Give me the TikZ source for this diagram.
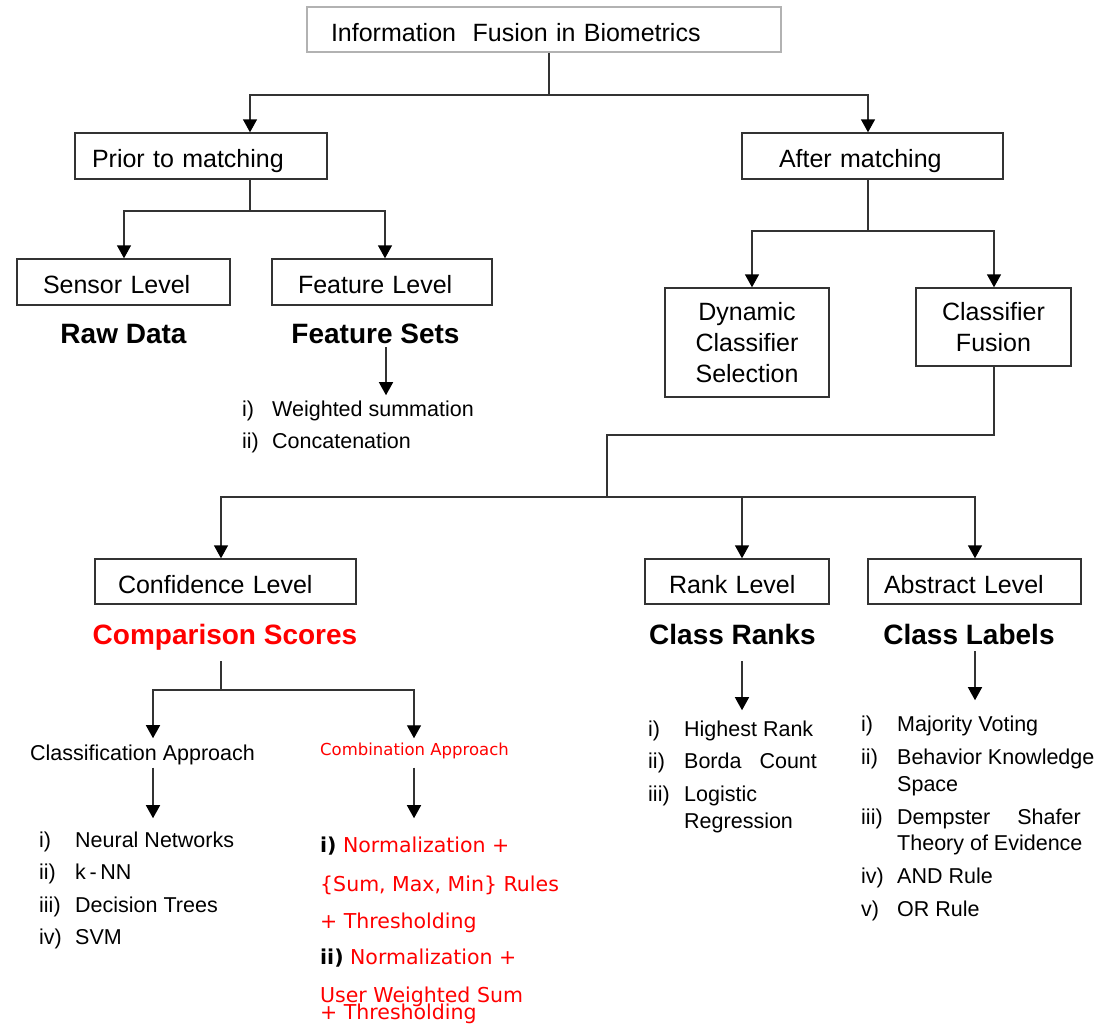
\documentclass[tikz,border=0pt]{standalone}
\usepackage{fontspec}
\setmainfont{Liberation Sans}
\newfontfamily\dejavu{DejaVu Sans}
\usetikzlibrary{arrows.meta}
\definecolor{lnc}{HTML}{333333}
\definecolor{rd}{HTML}{FF0000}
\tikzset{
  box/.style={draw=lnc, line width=1.4pt, font=\fontsize{25}{31}\selectfont, inner ysep=0pt, minimum height=45pt},
  lbox/.style={box, align=left, text height=23pt, text depth=0pt},
  conn/.style={draw=lnc, line width=1.4pt},
  arr/.style={conn, -{Triangle[width=14pt,length=13pt,color=black]}},
  hd/.style={font=\fontsize{28}{32}\selectfont\bfseries, anchor=base, inner sep=0pt},
  item/.style={font=\fontsize{21.5}{26}\selectfont, anchor=base west, inner sep=0pt},
  ritem/.style={font=\dejavu\fontsize{20.5}{25}\selectfont, text=rd, anchor=base west, inner sep=0pt},
}
\newcommand\lab[2]{\makebox[#1][l]{#2}}
\begin{document}
\begin{tikzpicture}[x=1pt,y=-1pt]
\fill[white] (0,0) rectangle (1100,1023);
\useasboundingbox (0,0) rectangle (1100,1023);
% boxes
\node[lbox, draw=gray!60, inner xsep=24pt, text width=426pt] (top) at (544,29.5) {Information\ \ Fusion in Biometrics};
\node[lbox, inner xsep=17pt, text width=218pt, minimum height=46pt] (prior) at (201,156) {Prior to matching};
\node[lbox, inner xsep=37pt, text width=187pt, minimum height=46pt] (after) at (872.5,156) {After matching};
\node[lbox, inner xsep=26pt, text width=161pt, minimum height=46pt] (sensor) at (123.5,282) {Sensor Level};
\node[lbox, inner xsep=26pt, text width=168pt, minimum height=46pt] (feature) at (382,282) {Feature Level};
\node[box, align=center, minimum width=164pt, minimum height=109pt] (dyn) at (747,342.5) {Dynamic\\Classifier\\Selection};
\node[box, align=center, minimum width=155pt, minimum height=78pt] (fus) at (993.5,327) {Classifier\\Fusion};
\node[lbox, inner xsep=23pt, text width=215pt] (conf) at (225.5,581.5) {Confidence Level};
\node[lbox, inner xsep=24pt, text width=136pt] (rank) at (737,581.5) {Rank Level};
\node[lbox, inner xsep=16pt, text width=181pt] (abs) at (974.5,581.5) {Abstract Level};
% headings
\node[hd] (raw) at (123.5,343) {Raw Data};
\node[hd] (fsets) at (375.5,343) {Feature Sets};
\node[hd, text=rd] (cs) at (225,644) {Comparison Scores};
\node[hd] (cr) at (732.5,644) {Class Ranks};
\node[hd] (cl) at (969,644) {Class Labels};
% approaches
\node[font=\fontsize{21.5}{26}\selectfont, anchor=base, inner sep=0pt] (ca) at (142.5,760) {Classification Approach};
\node[font=\dejavu\fontsize{16.5}{20}\selectfont, text=rd, anchor=base, inner sep=0pt] (cb) at (414.5,755) {Combination Approach};
% lists
\node[item] (fl1) at (242,416) {\lab{30pt}{i)}Weighted summation};
\node[item] (fl2) at (242,448) {\lab{30pt}{ii)}Concatenation};
\node[item] (k1) at (39,847) {\lab{36pt}{i)}Neural Networks};
\node[item] (k2) at (39,879) {\lab{36pt}{ii)}k\,-\,NN};
\node[item] (k3) at (39,912) {\lab{36pt}{iii)}Decision Trees};
\node[item] (k4) at (39,944) {\lab{36pt}{iv)}SVM};
\node[ritem] (m1) at (320,852) {{\color{black}\bfseries i)} Normalization +};
\node[ritem] (m2) at (320,891) {\{Sum, Max, Min\} Rules};
\node[ritem] (m3) at (320,928) {+ Thresholding};
\node[ritem] (m4) at (320,964) {{\color{black}\bfseries ii)} Normalization +};
\node[ritem] (m5) at (320,1002) {User Weighted Sum};
\node[ritem] (m6) at (320,1019) {+ Thresholding};
\node[item] (r1) at (648,736) {\lab{36pt}{i)}Highest Rank};
\node[item] (r2) at (648,768) {\lab{36pt}{ii)}Borda\hspace{18pt}Count};
\node[item] (r3) at (648,801) {\lab{36pt}{iii)}Logistic};
\node[item] (r4) at (684,828) {Regression};
\node[item] (a1) at (861,731) {\lab{36pt}{i)}Majority Voting};
\node[item] (a2) at (861,764) {\lab{36pt}{ii)}Behavior Knowledge};
\node[item] (a3) at (897,791) {Space};
\node[item] (a4) at (861,824) {\lab{36pt}{iii)}Dempster\hspace{27pt}Shafer};
\node[item] (a5) at (897,850) {Theory of Evidence};
\node[item] (a6) at (861,883) {\lab{36pt}{iv)}AND Rule};
\node[item] (a7) at (861,916) {\lab{36pt}{v)}OR Rule};
% coordinates
\coordinate (c1) at (549,95);
\coordinate (xp) at (250,0);
\coordinate (xa) at (868,0);
\coordinate (c2) at (250,211);
\coordinate (xs) at (124,0);
\coordinate (xf) at (385,0);
\coordinate (xf2) at (386,0);
\coordinate (c3) at (868,231);
\coordinate (xd) at (752,0);
\coordinate (xu) at (994,0);
\coordinate (c4) at (607,435);
\coordinate (c5) at (607,497);
\coordinate (xc) at (221,0);
\coordinate (xr) at (742,0);
\coordinate (xb) at (975,0);
\coordinate (c6) at (221,690);
\coordinate (xca) at (153,0);
\coordinate (xcb) at (414,0);
% connectors
\draw[conn] (top.south -| c1) -- (c1);
\draw[arr] (c1) -| (prior.north -| xp);
\draw[arr] (c1) -| (after.north -| xa);
\draw[conn] (prior.south -| c2) -- (c2);
\draw[arr] (c2) -| (sensor.north -| xs);
\draw[arr] (c2) -| (feature.north -| xf);
\draw[conn] (after.south -| c3) -- (c3);
\draw[arr] (c3) -| (dyn.north -| xd);
\draw[arr] (c3) -| (fus.north -| xu);
\draw[conn] (fus.south -| xu) |- (c4) -- (c5);
\draw[arr] (c5) -| (conf.north -| xc);
\draw[arr] (c5) -| (rank.north -| xr);
\draw[arr] (c5) -| (abs.north -| xb);
\draw[arr, shorten <=4pt, shorten >=5pt] (fsets.south -| xf2) -- (fl1.north -| xf2);
\draw[conn, shorten <=11pt] (cs.south -| c6) -- (c6);
\draw[arr, shorten >=6pt] (c6) -| (ca.north -| xca);
\draw[arr, shorten >=4pt] (c6) -| (cb.north -| xcb);
\draw[arr, shorten <=3pt, shorten >=13pt] (ca.south -| xca) -- (k1.north -| xca);
\draw[arr, shorten <=9pt, shorten >=18pt] (cb.south -| xcb) -- (m1.north -| xcb);
\draw[arr, shorten <=17pt, shorten >=10pt] (cr.south -| xr) -- (r1.north -| xr);
\draw[arr, shorten <=7pt, shorten >=15pt] (cl.south -| xb) -- (a1.north -| xb);
\end{tikzpicture}
\end{document}
